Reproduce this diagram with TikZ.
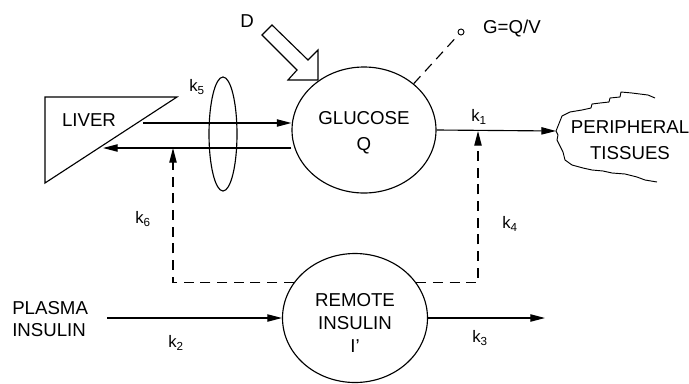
\documentclass[tikz,border=0pt]{standalone}
\usepackage{fontspec}
\setmainfont{Liberation Sans}
\usetikzlibrary{arrows.meta,shapes.geometric,calc}
\tikzset{
  pool/.style    ={draw, ellipse, line width=0.85pt, inner sep=0pt},
  lbl/.style     ={font=\fontsize{14}{19.5}\selectfont, align=center, inner sep=0pt},
  rate/.style    ={font=\fontsize{12.5}{14}\selectfont, inner sep=0pt},
  flowarr/.style ={-{Triangle[length=11pt,width=5.5pt]}, line width=0.85pt},
  dasharr/.style ={flowarr, dash pattern=on 7.5pt off 5pt},
  dashln/.style  ={line width=0.85pt, dash pattern=on 7.5pt off 5pt},
}

\begin{document}
\begin{tikzpicture}[x=0.75pt,y=-0.75pt]
        \useasboundingbox (0,0) rectangle (689,383);

        % compartments
        \node[pool,minimum width=108pt,minimum height=94.5pt] (glucose) at (364,130) {};
        \node[lbl] (glucosetxt) at (364,133) {GLUCOSE\\Q};
        \node[pool,minimum width=108.75pt,minimum height=96.75pt] (remote) at (355,318) {};
        \node[lbl,font=\fontsize{14}{17.6}\selectfont] (remotetxt) at (355,323) {REMOTE\\INSULIN\\I'};

        % liver
        \draw[line width=0.85pt] (45,97) -- (177,97) -- (45,183) -- cycle;
        \node[lbl] (liver) at (89,120) {LIVER};
        \coordinate (liverout) at (143,123);
        \coordinate (liverin)  at (103,148);

        % lens
        \node[pool,minimum width=21pt,minimum height=85.5pt] (lens) at (223,134) {};
        \node[rate] (k5) at (197,87) {k\textsubscript{5}};

        % dose
        \draw[line width=0.85pt,fill=white] (262,35) -- (272,25) -- (308,60) -- (318,50)
          -- (318,80) -- (288,80) -- (297,70) -- cycle;
        \node[lbl] (dose) at (247,21) {D};

        % sample
        \node[draw,circle,line width=0.7pt,minimum size=4.5pt,inner sep=0pt] (sample) at (461,32) {};
        \node[lbl] (gqv) at (512,28) {G=Q/V};
        \draw[dashln] (glucose.43) -- (sample);

        % peripheral tissues
        \draw[line width=0.7pt] (655,98) -- (648,95) -- (640,94) -- (632,93) -- (621,92) -- (620,97)
          -- (610,98) -- (609,102) -- (600,103) -- (592,104) -- (591,108) -- (582,110) -- (570,112)
          -- (562,116) -- (560,121) -- (558,126) -- (556,131) -- (558,135) -- (557,140) -- (560,146)
          -- (563,152) -- (565,160) -- (572,165) -- (583,168) -- (592,170) -- (603,171) -- (612,173)
          -- (625,174) -- (637,177) -- (645,180) -- (657,182);
        \coordinate (periph) at (556,131);
        \node[lbl,font=\fontsize{14}{20}\selectfont] (tissues) at (630,140) {PERIPHERAL\\TISSUES};

        % plasma insulin
        \node[lbl,align=left,anchor=west,font=\fontsize{14}{16.5}\selectfont] (plasma) at (12,319) {PLASMA\\INSULIN};
        \coordinate (plasmaout) at (107,318);
        \coordinate (insout) at (545,318);

        % flows
        \draw[flowarr] (liverout) -- (liverout -| glucose.west);
        \draw[flowarr] (liverin -| glucose.west) -- (liverin);
        \draw[flowarr] (glucose.east) -- (periph);
        \draw[flowarr] (plasmaout) -- (remote.west);
        \draw[flowarr] (remote.east) -- (insout);
        \node[rate] (k1) at (479,117) {k\textsubscript{1}};
        \node[rate] (k2) at (176,343) {k\textsubscript{2}};
        \node[rate] (k3) at (480,338) {k\textsubscript{3}};

        % insulin action
        \coordinate (k4top) at (478,131);
        \coordinate (k6top) at (173,148);
        \draw[dasharr] (remote.30) -| (k4top);
        \draw[dasharr] (remote.150) -| (k6top);
        \node[rate] (k4) at (510,224) {k\textsubscript{4}};
        \node[rate] (k6) at (143,219) {k\textsubscript{6}};
\end{tikzpicture}
\end{document}
